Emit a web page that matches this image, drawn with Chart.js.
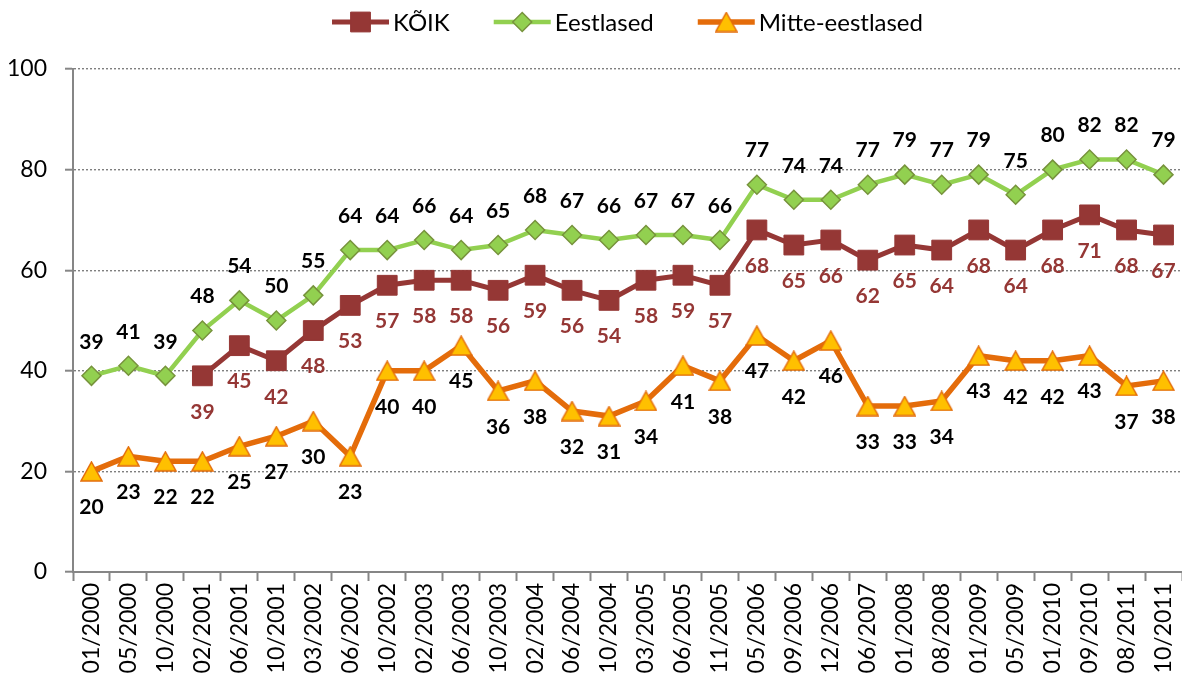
<!DOCTYPE html>
<html>
<head>
<meta charset="utf-8">
<script src="https://cdn.jsdelivr.net/npm/chart.js@4/dist/chart.umd.min.js"></script>
<style>
  html, body { margin: 0; padding: 0; background: #fff; overflow: hidden; }
  canvas { display: block; }
</style>
</head>
<body>
<canvas id="c" width="1182" height="681" style="width:1182px;height:681px"></canvas>
<script>
const categories = ["01/2000","05/2000","10/2000","02/2001","06/2001","10/2001","03/2002","06/2002","10/2002","02/2003","06/2003","10/2003","02/2004","06/2004","10/2004","03/2005","06/2005","11/2005","05/2006","09/2006","12/2006","06/2007","01/2008","08/2008","01/2009","05/2009","01/2010","09/2010","08/2011","10/2011"];
const koik = [null,null,null,39,45,42,48,53,57,58,58,56,59,56,54,58,59,57,68,65,66,62,65,64,68,64,68,71,68,67];
const eestlased = [39,41,39,48,54,50,55,64,64,66,64,65,68,67,66,67,67,66,77,74,74,77,79,77,79,75,80,82,82,79];
const mitteEestlased = [20,23,22,22,25,27,30,23,40,40,45,36,38,32,31,34,41,38,47,42,46,33,33,34,43,42,42,43,37,38];
const seriesNames = ["KÕIK","Eestlased","Mitte-eestlased"];
const yTicks = [0,20,40,60,80,100];

const FONT = "Lato, 'Open Sans', sans-serif";
Chart.defaults.font.family = FONT;

// triangle marker as canvas
const tri = document.createElement('canvas');
tri.width = 23; tri.height = 21;
(function(){
  const g = tri.getContext('2d');
  g.beginPath();
  g.moveTo(11.5, 1); g.lineTo(22, 20); g.lineTo(1, 20); g.closePath();
  g.fillStyle = '#FFC000'; g.fill();
  g.strokeStyle = '#E46C0A'; g.lineWidth = 1.5; g.lineJoin = 'miter'; g.stroke();
})();

const labelCfg = [
  {color: '#953735', dy: 36},
  {color: '#000000', dy: -34},
  {color: '#000000', dy: 36}
];

const dataLabels = {
  id: 'dataLabels',
  afterDatasetsDraw(chart) {
    const ctx = chart.ctx;
    ctx.save();
    ctx.font = "bold 21px " + FONT;
    ctx.textAlign = 'center';
    ctx.textBaseline = 'middle';
    chart.data.datasets.forEach((ds, di) => {
      const meta = chart.getDatasetMeta(di);
      ctx.fillStyle = labelCfg[di].color;
      meta.data.forEach((pt, i) => {
        const v = ds.data[i];
        if (v === null || v === undefined) return;
        ctx.fillText(String(Math.round(v)), pt.x, pt.y + labelCfg[di].dy);
      });
    });
    ctx.restore();
  }
};

const customLegend = {
  id: 'customLegend',
  afterDraw(chart) {
    const ctx = chart.ctx;
    const ca = chart.chartArea;
    ctx.save();
    ctx.font = "24px " + FONT;
    ctx.textBaseline = 'middle';
    const lineLen = 57, gapText = 4, gapItem = 44;
    const items = chart.data.datasets.map(ds => ({ds, w: ctx.measureText(ds.label).width}));
    let total = 0;
    items.forEach((it, i) => { total += lineLen + gapText + it.w + (i < items.length - 1 ? gapItem : 0); });
    let x = (ca.left + ca.right) / 2 - total / 2;
    const y = 22;
    items.forEach(it => {
      const ds = it.ds;
      ctx.strokeStyle = ds.borderColor;
      ctx.lineWidth = ds.borderWidth;
      ctx.beginPath(); ctx.moveTo(x, y); ctx.lineTo(x + lineLen, y); ctx.stroke();
      ctx.fillStyle = ds.pointBackgroundColor;
      ctx.strokeStyle = ds.pointBorderColor;
      ctx.lineWidth = ds.pointBorderWidth;
      Chart.helpers.drawPoint(ctx, {pointStyle: ds.pointStyle, radius: ds.pointRadius, rotation: 0, borderWidth: ds.pointBorderWidth}, x + lineLen / 2, y);
      ctx.fillStyle = '#000';
      ctx.fillText(ds.label, x + lineLen + gapText, y + 1);
      x += lineLen + gapText + it.w + gapItem;
    });
    ctx.restore();
  }
};

new Chart(document.getElementById('c'), {
  type: 'line',
  data: {
    labels: categories,
    datasets: [
      {
        label: seriesNames[0], data: koik,
        borderColor: '#953735', borderWidth: 5,
        pointStyle: 'rect', pointRadius: 14, pointHoverRadius: 14,
        pointBackgroundColor: '#953735', pointBorderColor: '#953735', pointBorderWidth: 1
      },
      {
        label: seriesNames[1], data: eestlased,
        borderColor: '#92D050', borderWidth: 4.5,
        pointStyle: 'rectRot', pointRadius: 9.5, pointHoverRadius: 9.5,
        pointBackgroundColor: '#92D050', pointBorderColor: '#77933C', pointBorderWidth: 1.5
      },
      {
        label: seriesNames[2], data: mitteEestlased,
        borderColor: '#E46C0A', borderWidth: 5.5,
        pointStyle: tri, pointRadius: 10, pointHoverRadius: 10,
        pointBackgroundColor: '#FFC000', pointBorderColor: '#E46C0A', pointBorderWidth: 1.5
      }
    ]
  },
  options: {
    responsive: false,
    maintainAspectRatio: false,
    devicePixelRatio: 1,
    animation: false,
    layout: { autoPadding: false, padding: { top: 69, right: 0, left: 0, bottom: 0 } },
    plugins: { legend: { display: false }, tooltip: { enabled: false } },
    elements: { line: { tension: 0 } },
    scales: {
      x: {
        type: 'category',
        offset: true,
        grid: { offset: true, drawOnChartArea: false, drawTicks: true, tickLength: 9, tickColor: '#868686', tickWidth: 2, color: '#868686' },
        border: { display: true, color: '#868686', width: 2 },
        ticks: { minRotation: 90, maxRotation: 90, autoSkip: false, color: '#000', padding: 2, font: { size: 23 } },
        afterFit(scale) {
          scale.height = 109;
          scale.paddingLeft = 0; scale.paddingRight = 0;
        }
      },
      y: {
        min: 0, max: 100,
        afterBuildTicks(scale) { scale.ticks = yTicks.map(v => ({value: v})); },
        grid: { color: '#7f7f7f', lineWidth: 1.4, drawTicks: true, tickLength: 8, tickColor: '#868686', tickWidth: 2 },
        border: { display: true, color: '#868686', width: 2, dash: [2, 2] },
        ticks: { color: '#000', padding: 18, font: { size: 23 } },
        afterFit(scale) { scale.width = 73; }
      }
    }
  },
  plugins: [dataLabels, customLegend]
});
</script>
</body>
</html>
